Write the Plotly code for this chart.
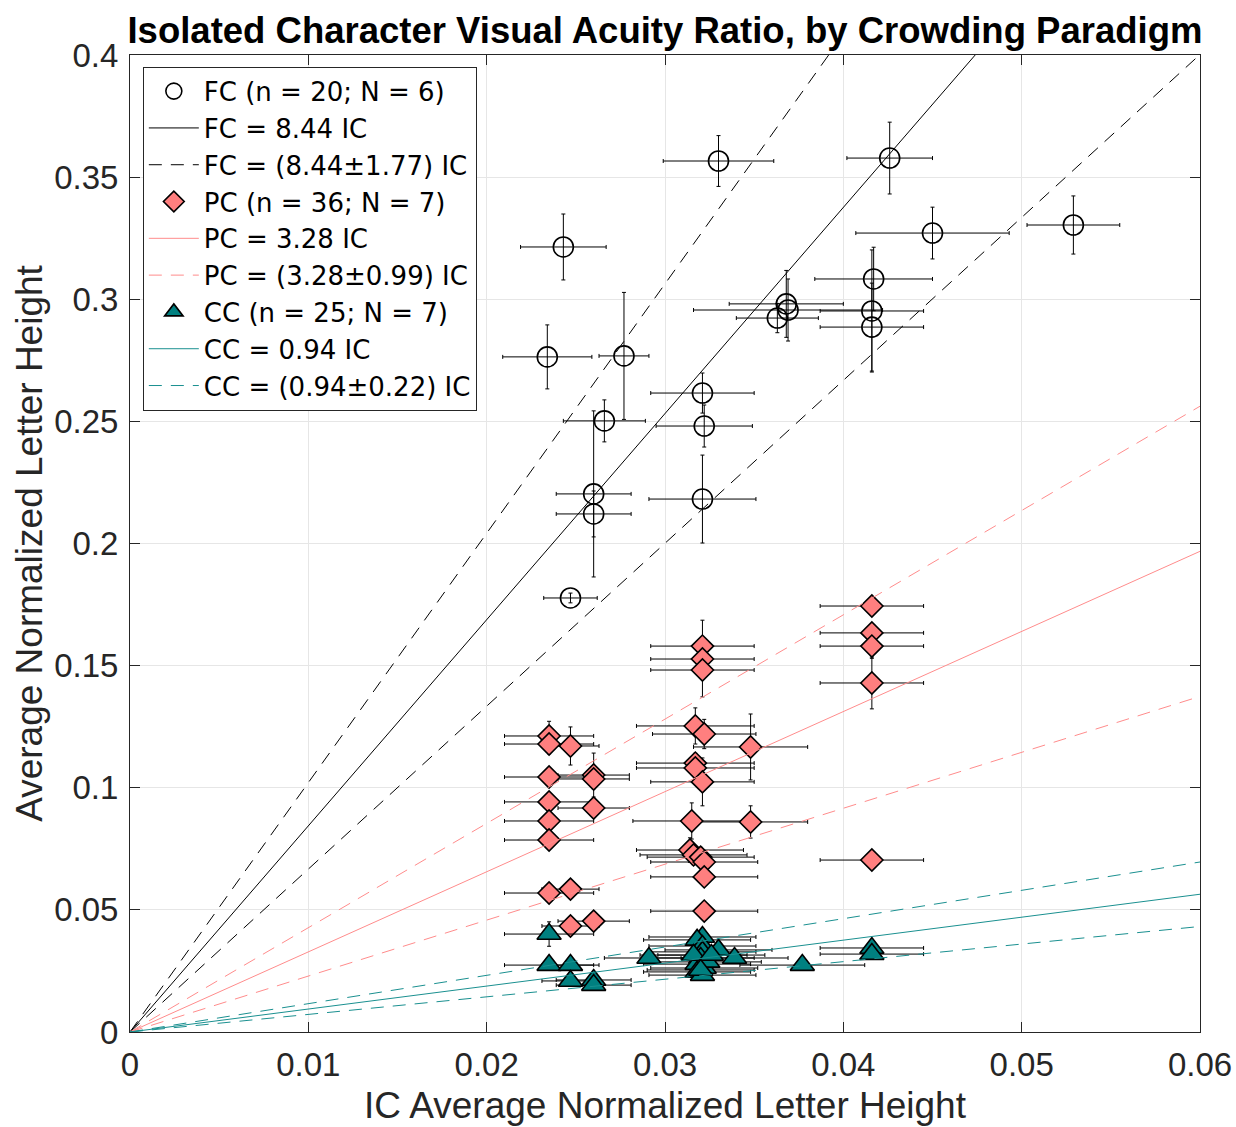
import plotly.graph_objects as go

# ---------------- data ----------------
fc_x = [0.0330, 0.0243, 0.0234, 0.0277, 0.0266, 0.0321, 0.0322, 0.0321, 0.0260, 0.0260,
        0.0247, 0.0426, 0.0450, 0.0529, 0.0417, 0.0416, 0.0416, 0.0368, 0.0369, 0.0363]
fc_y = [0.3566, 0.3214, 0.2764, 0.2768, 0.2502, 0.2616, 0.2481, 0.2182, 0.2203, 0.2121,
        0.1777, 0.3578, 0.3271, 0.3304, 0.3083, 0.2952, 0.2886, 0.2981, 0.2956, 0.2923]
fc_xerr = [0.0031, 0.0024, 0.0025, 0.0014, 0.0023, 0.0029, 0.0027, 0.0030, 0.0021, 0.0021,
           0.0015, 0.0024, 0.0043, 0.0026, 0.0033, 0.0029, 0.0029, 0.0032, 0.0053, 0.0023]
fc_yerr = [0.0104, 0.0135, 0.0131, 0.0260, 0.0086, 0.0082, 0.0086, 0.0180, 0.0340, 0.0094,
           0.0020, 0.0147, 0.0106, 0.0119, 0.0130, 0.0250, 0.0180, 0.0137, 0.0127, 0.0060]

pc_x = [0.0235, 0.0235, 0.0235, 0.0235, 0.0235, 0.0235, 0.0235,
        0.0247, 0.0247, 0.0247,
        0.0260, 0.0260, 0.0260, 0.0260,
        0.0321, 0.0321, 0.0321, 0.0317, 0.0322, 0.0348,
        0.0317, 0.0317, 0.0321, 0.0315, 0.0348,
        0.0314, 0.0316, 0.0320, 0.0322, 0.0322, 0.0322,
        0.0416, 0.0416, 0.0416, 0.0416, 0.0416]
pc_y = [0.1212, 0.1179, 0.1044, 0.0942, 0.0864, 0.0786, 0.0569,
        0.1171, 0.0585, 0.0434,
        0.1052, 0.1036, 0.0917, 0.0454,
        0.1580, 0.1527, 0.1482, 0.1253, 0.1220, 0.1167,
        0.1101, 0.1081, 0.1024, 0.0864, 0.0860,
        0.0745, 0.0725, 0.0716, 0.0696, 0.0635, 0.0495,
        0.1744, 0.1634, 0.1580, 0.1429, 0.0704]
pc_xerr = [0.0025, 0.0025, 0.0025, 0.0025, 0.0025, 0.0025, 0.0025,
           0.0016, 0.0016, 0.0016,
           0.0020, 0.0020, 0.0020, 0.0020,
           0.0029, 0.0029, 0.0029, 0.0033, 0.0029, 0.0032,
           0.0033, 0.0033, 0.0029, 0.0033, 0.0032,
           0.0030, 0.0030, 0.0030, 0.0030, 0.0030, 0.0030,
           0.0029, 0.0029, 0.0029, 0.0029, 0.0029]
pc_yerr = [0.0060, 0.0040, 0.0030, 0.0030, 0.0030, 0.0030, 0.0030,
           0.0078, 0.0030, 0.0030,
           0.0090, 0.0040, 0.0030, 0.0030,
           0.0106, 0.0040, 0.0110, 0.0074, 0.0060, 0.0135,
           0.0040, 0.0040, 0.0098, 0.0074, 0.0066,
           0.0050, 0.0040, 0.0040, 0.0040, 0.0030, 0.0020,
           0.0020, 0.0030, 0.0050, 0.0106, 0.0010]

cc_x = [0.0235, 0.0235, 0.0247, 0.0247, 0.0260, 0.0260, 0.0291,
        0.0321, 0.0318, 0.0321, 0.0321, 0.0330, 0.0339, 0.0320, 0.0318,
        0.0322, 0.0318, 0.0321, 0.0316, 0.0324, 0.0326, 0.0320,
        0.0377, 0.0416, 0.0416]
cc_y = [0.0401, 0.0274, 0.0274, 0.0209, 0.0213, 0.0192, 0.0303,
        0.0389, 0.0377, 0.0352, 0.0328, 0.0336, 0.0303, 0.0303, 0.0278,
        0.0262, 0.0246, 0.0233, 0.0315, 0.0287, 0.0315, 0.0254,
        0.0274, 0.0344, 0.0319]
cc_xerr = [0.0025, 0.0025, 0.0016, 0.0016, 0.0021, 0.0021, 0.0025,
           0.0030, 0.0030, 0.0030, 0.0030, 0.0030, 0.0030, 0.0030, 0.0030,
           0.0030, 0.0030, 0.0030, 0.0030, 0.0030, 0.0030, 0.0030,
           0.0035, 0.0029, 0.0029]
cc_yerr = [0.0050, 0.0015, 0.0015, 0.0015, 0.0015, 0.0015, 0.0015,
           0.0015, 0.0015, 0.0015, 0.0015, 0.0015, 0.0015, 0.0015, 0.0015,
           0.0015, 0.0015, 0.0015, 0.0015, 0.0015, 0.0015, 0.0015,
           0.0015, 0.0015, 0.0015]

fc_slope, fc_sd = 8.44, 1.77
pc_slope, pc_sd = 3.28, 0.99
cc_slope, cc_sd = 0.94, 0.22

x_range = [0, 0.06]
y_range = [0, 0.4]
x_ticks = [0, 0.01, 0.02, 0.03, 0.04, 0.05, 0.06]
x_ticktext = ["0", "0.01", "0.02", "0.03", "0.04", "0.05", "0.06"]
y_ticks = [0, 0.05, 0.1, 0.15, 0.2, 0.25, 0.3, 0.35, 0.4]
y_ticktext = ["0", "0.05", "0.1", "0.15", "0.2", "0.25", "0.3", "0.35", "0.4"]

# ---------------- style ----------------
FONT = "Liberation Sans, Arial, Helvetica, sans-serif"
LEG_FONT = "DejaVu Sans, Liberation Sans, sans-serif"
TXT = "#262626"
PC_FILL = "#FF7F7F"
PC_LINE = "#FF8C8C"
CC_FILL = "#008080"
CC_LINE = "#1A9090"
DASH = "13px,9px"

fig = go.Figure()


def err(arr):
    return dict(type="data", array=arr, visible=True, color="black", thickness=1, width=2)


def add_lines(slope, sd, color, name_solid, name_dash):
    xs = [x_range[0], x_range[1]]
    fig.add_trace(go.Scatter(x=xs, y=[slope * v for v in xs], mode="lines",
                             line=dict(color=color, width=1), name=name_solid))
    fig.add_trace(go.Scatter(
        x=xs + [None] + xs,
        y=[(slope + sd) * v for v in xs] + [None] + [(slope - sd) * v for v in xs],
        mode="lines", line=dict(color=color, width=1, dash=DASH), name=name_dash))


fig.add_trace(go.Scatter(
    x=fc_x, y=fc_y, mode="markers", name="FC (n = 20; N = 6)",
    marker=dict(symbol="circle-open", size=20, color="black", line=dict(width=1.6, color="black")),
    error_x=err(fc_xerr), error_y=err(fc_yerr)))
add_lines(fc_slope, fc_sd, "black", "FC = 8.44 IC", "FC = (8.44±1.77) IC")

fig.add_trace(go.Scatter(
    x=pc_x, y=pc_y, mode="markers", name="PC (n = 36; N = 7)",
    marker=dict(symbol="diamond", size=17, color=PC_FILL, line=dict(width=1.6, color="black")),
    error_x=err(pc_xerr), error_y=err(pc_yerr)))
add_lines(pc_slope, pc_sd, PC_LINE, "PC = 3.28 IC", "PC = (3.28±0.99) IC")

fig.add_trace(go.Scatter(
    x=cc_x, y=cc_y, mode="markers", name="CC (n = 25; N = 7)",
    marker=dict(symbol="triangle-up", size=21, color=CC_FILL, line=dict(width=1.6, color="black")),
    error_x=err(cc_xerr), error_y=err(cc_yerr)))
add_lines(cc_slope, cc_sd, CC_LINE, "CC = 0.94 IC", "CC = (0.94±0.22) IC")

axis_common = dict(
    showgrid=True, gridcolor="#E6E6E6", gridwidth=1,
    showline=True, linecolor=TXT, linewidth=1, mirror="ticks",
    ticks="inside", ticklen=10, tickcolor=TXT, tickwidth=1,
    zeroline=False, tickfont=dict(family=FONT, size=33, color=TXT),
    automargin=False,
)

fig.update_layout(
    width=1236, height=1127,
    margin=dict(l=130, r=36, t=55, b=95),
    paper_bgcolor="white", plot_bgcolor="white",
    font=dict(family=FONT, color=TXT),
    title=dict(text="<b>Isolated Character Visual Acuity Ratio, by Crowding Paradigm</b>",
               x=0.538, xanchor="center", y=0.973, yanchor="middle",
               font=dict(family=FONT, size=36.5, color="black")),
    xaxis=dict(range=x_range, tickvals=x_ticks, ticktext=x_ticktext, ticklabelstandoff=3,
               title=dict(text="IC Average Normalized Letter Height",
                          font=dict(family=FONT, size=37, color=TXT), standoff=10),
               **axis_common),
    yaxis=dict(range=y_range, tickvals=y_ticks, ticktext=y_ticktext, ticklabelstandoff=4,
               title=dict(text="Average Normalized Letter Height",
                          font=dict(family=FONT, size=37, color=TXT), standoff=0),
               **axis_common),
    showlegend=True,
    legend=dict(x=0.012, y=0.988, xanchor="left", yanchor="top",
                bgcolor="white", bordercolor=TXT, borderwidth=1,
                font=dict(family=LEG_FONT, size=26, color="black"),
                itemwidth=50, tracegroupgap=0),
)

fig.write_html("out.html")
